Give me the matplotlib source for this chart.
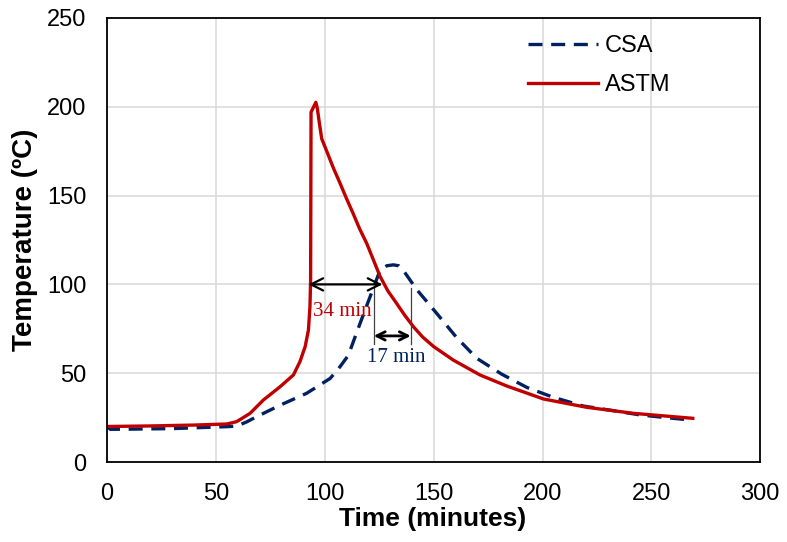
import matplotlib
matplotlib.use("Agg")
import matplotlib.pyplot as plt

# Time (minutes) vs temperature (ºC) for the two fire exposures
csa_time = [0, 1.5, 10, 30, 55, 59.5, 64, 68.7, 79.5, 91.7, 102.4, 106, 110.8, 116.2,
            120.8, 125.4, 128.5, 131.5, 134, 136, 142.3, 151.4, 160.6, 169.8, 181.2,
            192.8, 205, 218.8, 232.6, 244.8, 260, 265]
csa_temp = [20, 18.4, 18.5, 18.8, 19.9, 20.2, 22.5, 25.5, 32, 38.7, 47, 52, 60, 78,
            93, 108, 110.5, 111, 110.5, 108, 97, 83.7, 70, 58.4, 49.5,
            42, 36.4, 31.5, 28.9, 26.5, 24.6, 24]

astm_time = [0, 20, 40, 55, 59.5, 65.7, 71.8, 79.5, 85.6, 88.6, 91, 92.5, 93.2, 93.5,
             93.7, 94.3, 95.9, 96.6, 97.5, 98.6, 100.9, 104, 107, 110, 113, 116,
             119.3, 122.5, 125.4, 129, 133, 136.8, 140.7, 145, 150, 159, 171.3, 183.6,
             200.4, 220.3, 241.8, 269]
astm_temp = [20, 20.3, 20.8, 21.4, 22.7, 27.4, 34.9, 42.4, 49, 56.5, 65, 74.3, 87.5, 102.5,
             197, 198.5, 202.5, 199, 191, 182, 175, 165.4, 157, 148.3, 140, 131.3,
             123, 113.3, 104.5, 96.3, 89.3, 82.5, 76.2, 70.3, 65, 57.4, 49, 42.8,
             35.5, 30.8, 27.4, 24.6]

# delays marked on the plot
astm_lag = 34      # min, at 100 ºC
astm_lag_start = 92.5
peak_lag = 17      # min, between the peaks
peak_lag_start = 122.5

x_ticks = [0, 50, 100, 150, 200, 250, 300]
y_ticks = [0, 50, 100, 150, 200, 250]

red = "#C00000"
navy = "#002060"

plt.rcParams["font.family"] = ["Liberation Sans", "DejaVu Sans"]

fig = plt.figure(figsize=(7.87, 5.42), dpi=100)
ax = fig.add_axes([0.136, 0.1476, 0.830, 0.8192])

ax.plot(csa_time, csa_temp, color=navy, lw=2.4, dashes=(4.2, 2.6), label="CSA",
        solid_capstyle="butt", dash_capstyle="butt")
ax.plot(astm_time, astm_temp, color=red, lw=2.4, label="ASTM")

ax.set_xlim(0, 300)
ax.set_ylim(0, 250)
ax.set_xticks(x_ticks)
ax.set_yticks(y_ticks)
ax.grid(True, color="#D9D9D9", lw=1.1)
ax.set_axisbelow(True)
ax.tick_params(length=0, labelsize=17, pad=15)
for s in ax.spines.values():
    s.set_linewidth(1.3)
    s.set_color("black")

ax.set_xlabel("Time (minutes)", fontsize=19, fontweight="bold")
ax.set_ylabel("Temperature (ºC)", fontsize=20, fontweight="bold")
ax.xaxis.set_label_coords(0.499, -0.101)
ax.yaxis.set_label_coords(-0.106, 0.5)

# 34 min arrow at 100 ºC
ax.annotate("", xy=(astm_lag_start, 100), xytext=(astm_lag_start + astm_lag, 100),
            arrowprops=dict(arrowstyle="<->", color="black", lw=1.6,
                            mutation_scale=22, shrinkA=0, shrinkB=0))
ax.text(108, 84.8, f"{astm_lag} min", color=red, fontsize=15,
        family="Liberation Serif", ha="center", va="center")

# 17 min between peaks
for xv in (peak_lag_start, peak_lag_start + peak_lag):
    ax.plot([xv, xv], [66.4, 98], color="#404040", lw=0.9)
ax.annotate("", xy=(peak_lag_start, 71), xytext=(peak_lag_start + peak_lag, 71),
            arrowprops=dict(arrowstyle="<->", color="black", lw=2.0,
                            mutation_scale=15, shrinkA=0, shrinkB=0))
ax.text(132.8, 58.6, f"{peak_lag} min", color=navy, fontsize=15,
        family="Liberation Serif", ha="center", va="center")

ax.legend(loc="upper left", bbox_to_anchor=(0.645, 0.962), frameon=False,
          fontsize=17, handlelength=2.95, handletextpad=0.3, labelspacing=0.72,
          borderpad=0, borderaxespad=0)

fig.savefig("out.png", dpi=100)
